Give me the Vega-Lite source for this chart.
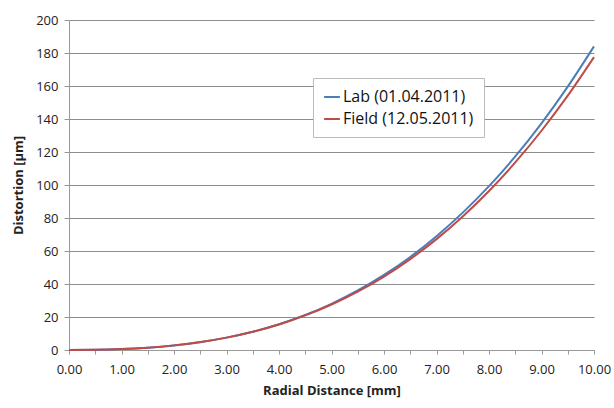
{
  "$schema": "https://vega.github.io/schema/vega-lite/v6.json",
  "width": 525,
  "height": 330,
  "autosize": {"type": "none"},
  "padding": {"left": 69, "top": 20, "right": 20, "bottom": 58},
  "background": "white",
  "config": {
    "font": "Open Sans",
    "view": {"stroke": null},
    "axis": {"labelFont": "Open Sans", "titleFont": "Open Sans", "labelColor": "#222", "titleColor": "#222"}
  },
  "data": {"values": [
    {"x": 0, "y": 0, "s": "Lab (01.04.2011)"},
    {"x": 0.5, "y": 0.12, "s": "Lab (01.04.2011)"},
    {"x": 1, "y": 0.54, "s": "Lab (01.04.2011)"},
    {"x": 1.5, "y": 1.39, "s": "Lab (01.04.2011)"},
    {"x": 2, "y": 2.75, "s": "Lab (01.04.2011)"},
    {"x": 2.5, "y": 4.75, "s": "Lab (01.04.2011)"},
    {"x": 3, "y": 7.49, "s": "Lab (01.04.2011)"},
    {"x": 3.5, "y": 11.07, "s": "Lab (01.04.2011)"},
    {"x": 4, "y": 15.6, "s": "Lab (01.04.2011)"},
    {"x": 4.5, "y": 21.2, "s": "Lab (01.04.2011)"},
    {"x": 5, "y": 28, "s": "Lab (01.04.2011)"},
    {"x": 5.5, "y": 36.06, "s": "Lab (01.04.2011)"},
    {"x": 6, "y": 45.5, "s": "Lab (01.04.2011)"},
    {"x": 6.5, "y": 56.4, "s": "Lab (01.04.2011)"},
    {"x": 7, "y": 69, "s": "Lab (01.04.2011)"},
    {"x": 7.5, "y": 83.25, "s": "Lab (01.04.2011)"},
    {"x": 8, "y": 99.3, "s": "Lab (01.04.2011)"},
    {"x": 8.5, "y": 117.3, "s": "Lab (01.04.2011)"},
    {"x": 9, "y": 137.4, "s": "Lab (01.04.2011)"},
    {"x": 9.5, "y": 159.6, "s": "Lab (01.04.2011)"},
    {"x": 10, "y": 184, "s": "Lab (01.04.2011)"},
    {"x": 0, "y": 0, "s": "Field (12.05.2011)"},
    {"x": 0.5, "y": 0.12, "s": "Field (12.05.2011)"},
    {"x": 1, "y": 0.56, "s": "Field (12.05.2011)"},
    {"x": 1.5, "y": 1.42, "s": "Field (12.05.2011)"},
    {"x": 2, "y": 2.8, "s": "Field (12.05.2011)"},
    {"x": 2.5, "y": 4.79, "s": "Field (12.05.2011)"},
    {"x": 3, "y": 7.5, "s": "Field (12.05.2011)"},
    {"x": 3.5, "y": 11.04, "s": "Field (12.05.2011)"},
    {"x": 4, "y": 15.49, "s": "Field (12.05.2011)"},
    {"x": 4.5, "y": 20.97, "s": "Field (12.05.2011)"},
    {"x": 5, "y": 27.56, "s": "Field (12.05.2011)"},
    {"x": 5.5, "y": 35.39, "s": "Field (12.05.2011)"},
    {"x": 6, "y": 44.53, "s": "Field (12.05.2011)"},
    {"x": 6.5, "y": 55.11, "s": "Field (12.05.2011)"},
    {"x": 7, "y": 67.2, "s": "Field (12.05.2011)"},
    {"x": 7.5, "y": 80.93, "s": "Field (12.05.2011)"},
    {"x": 8, "y": 96.38, "s": "Field (12.05.2011)"},
    {"x": 8.5, "y": 113.67, "s": "Field (12.05.2011)"},
    {"x": 9, "y": 132.88, "s": "Field (12.05.2011)"},
    {"x": 9.5, "y": 154.13, "s": "Field (12.05.2011)"},
    {"x": 10, "y": 177.5, "s": "Field (12.05.2011)"}
  ]},
  "mark": {"type": "line", "interpolate": "monotone", "strokeWidth": 2},
  "encoding": {
    "x": {
      "field": "x", "type": "quantitative",
      "scale": {"domain": [0, 10], "nice": false},
      "axis": {
        "title": "Radial Distance [mm]", "titleFontSize": 13, "titleFontWeight": "bold", "titlePadding": 8,
        "values": [0, 0.5, 1, 1.5, 2, 2.5, 3, 3.5, 4, 4.5, 5, 5.5, 6, 6.5, 7, 7.5, 8, 8.5, 9, 9.5, 10],
        "labelExpr": "datum.value % 1 === 0 ? format(datum.value, '.2f') : ''",
        "labelFontSize": 13, "labelPadding": 9, "labelFlush": false, "labelOverlap": false,
        "grid": false, "domainColor": "#999", "tickColor": "#999", "tickSize": 4
      }
    },
    "y": {
      "field": "y", "type": "quantitative",
      "scale": {"domain": [0, 200], "nice": false},
      "axis": {
        "title": "Distortion [µm]", "titleFontSize": 13, "titleFontWeight": "bold", "titlePadding": 10,
        "values": [0, 20, 40, 60, 80, 100, 120, 140, 160, 180, 200],
        "labelFontSize": 13, "labelPadding": 6,
        "grid": true, "gridColor": "#8c8c8c", "gridWidth": 1,
        "domainColor": "#999", "tickColor": "#999", "tickSize": 5
      }
    },
    "color": {
      "field": "s", "type": "nominal",
      "sort": ["Lab (01.04.2011)", "Field (12.05.2011)"],
      "scale": {"domain": ["Lab (01.04.2011)", "Field (12.05.2011)"], "range": ["#4a7ebb", "#be4b48"]},
      "legend": {
        "title": null, "orient": "none", "legendX": 244, "legendY": 58,
        "symbolType": "stroke", "symbolSize": 250, "symbolStrokeWidth": 2, "labelOffset": 2,
        "labelFontSize": 16, "labelColor": "#111", "labelLimit": 300,
        "fillColor": "white", "strokeColor": "#bbb", "padding": 10, "rowPadding": 5
      }
    }
  }
}
